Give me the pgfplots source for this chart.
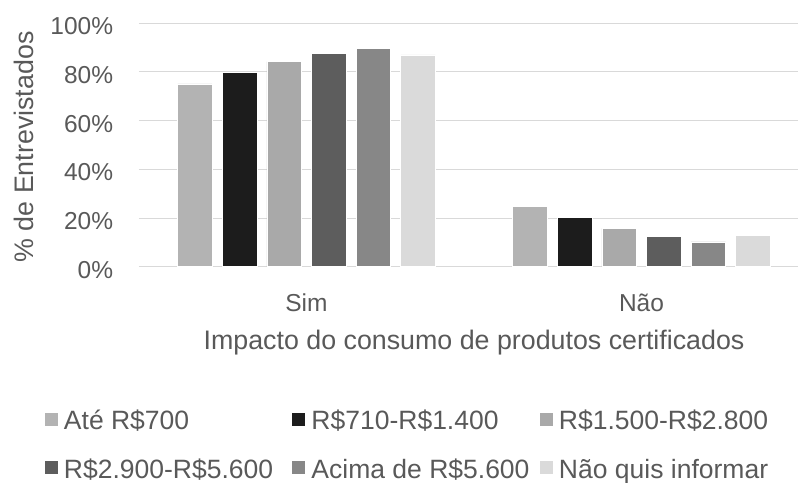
\documentclass[border=0pt]{standalone}
\usepackage{fontspec}
\setmainfont{Liberation Sans}
\usepackage{pgfplots}
\pgfplotsset{compat=1.18}
\definecolor{txt}{HTML}{595959}
\definecolor{grd}{HTML}{D9D9D9}
\definecolor{cA}{HTML}{B3B3B3}
\definecolor{cB}{HTML}{1C1C1C}
\definecolor{cC}{HTML}{A9A9A9}
\definecolor{cD}{HTML}{5D5D5D}
\definecolor{cE}{HTML}{878787}
\definecolor{cF}{HTML}{DADADA}
\newcommand{\legtxt}[1]{\makebox[228.5bp][l]{\rule[-18.4bp]{0pt}{48.4bp}#1}}
\begin{document}
\begin{tikzpicture}
\path[use as bounding box] (-139bp,-216.3bp) rectangle (659bp,266.7bp);
\begin{axis}[
  scale only axis,
  width=670bp, height=243.4bp,
  ybar=10.1bp, bar width=34.5bp,
  xmin=-0.5, xmax=1.5, ymin=0, ymax=100,
  enlargelimits=false,
  xtick={0,1}, xticklabels={Sim,Não},
  ytick={0,20,40,60,80,100},
  yticklabels={0\%,20\%,40\%,60\%,80\%,100\%},
  /pgf/number format/assume math mode=true,
  major tick length=0pt,
  axis line style={draw=none},
  ymajorgrids, grid style={grd, line width=1bp},
  xticklabel style={font=\fontsize{24.5bp}{29bp}\selectfont, text=txt, anchor=base, inner sep=0pt, yshift=-44.3bp},
  yticklabel style={font=\fontsize{24.5bp}{29bp}\selectfont, text=txt, anchor=east, inner sep=0pt, xshift=-25.7bp, yshift=-3bp},
  xlabel={Impacto do consumo de produtos certificados},
  ylabel={\% de Entrevistados},
  xlabel style={font=\fontsize{26.8bp}{32bp}\selectfont, text=txt, at={(axis description cs:0.5,-0.3394)}, anchor=base, inner sep=0pt},
  ylabel style={font=\fontsize{26.8bp}{32bp}\selectfont, text=txt, at={(axis description cs:-0.15776,0.4918)}, anchor=base, inner sep=0pt},
  legend columns=3,
  legend cell align=left,
  legend style={draw=none, fill=none, inner sep=0pt, outer sep=0pt,
    column sep=0pt, row sep=0pt,
    nodes={inner sep=0pt, outer sep=0pt},
    font=\fontsize{26.5bp}{31bp}\selectfont, text=txt,
    at={(axis description cs:0,0)}, anchor=north west,
    xshift=-94bp, yshift=-118.9bp},
  every axis plot post/.append style={draw=white, line width=0.6bp,
    legend image code/.code={\path[draw=none,fill=none] (0bp,-18.4bp) rectangle (19bp,30bp);
      \fill[##1,draw=none] (0bp,-10.4bp) rectangle (13bp,2.6bp);}},
]
\addplot[fill=cA] coordinates {(0,75.1) (1,24.9)};
\addlegendentry{\legtxt{Até R\$700}}
\addplot[fill=cB] coordinates {(0,79.9) (1,20.1)};
\addlegendentry{\legtxt{R\$710-R\$1.400}}
\addplot[fill=cC] coordinates {(0,84.3) (1,15.7)};
\addlegendentry{\legtxt{R\$1.500-R\$2.800}}
\addplot[fill=cD] coordinates {(0,87.5) (1,12.5)};
\addlegendentry{\legtxt{R\$2.900-R\$5.600}}
\addplot[fill=cE] coordinates {(0,89.8) (1,10.2)};
\addlegendentry{\legtxt{Acima de R\$5.600}}
\addplot[fill=cF] coordinates {(0,87.0) (1,13.0)};
\addlegendentry{\legtxt{Não quis informar}}
\end{axis}
\end{tikzpicture}
\end{document}
